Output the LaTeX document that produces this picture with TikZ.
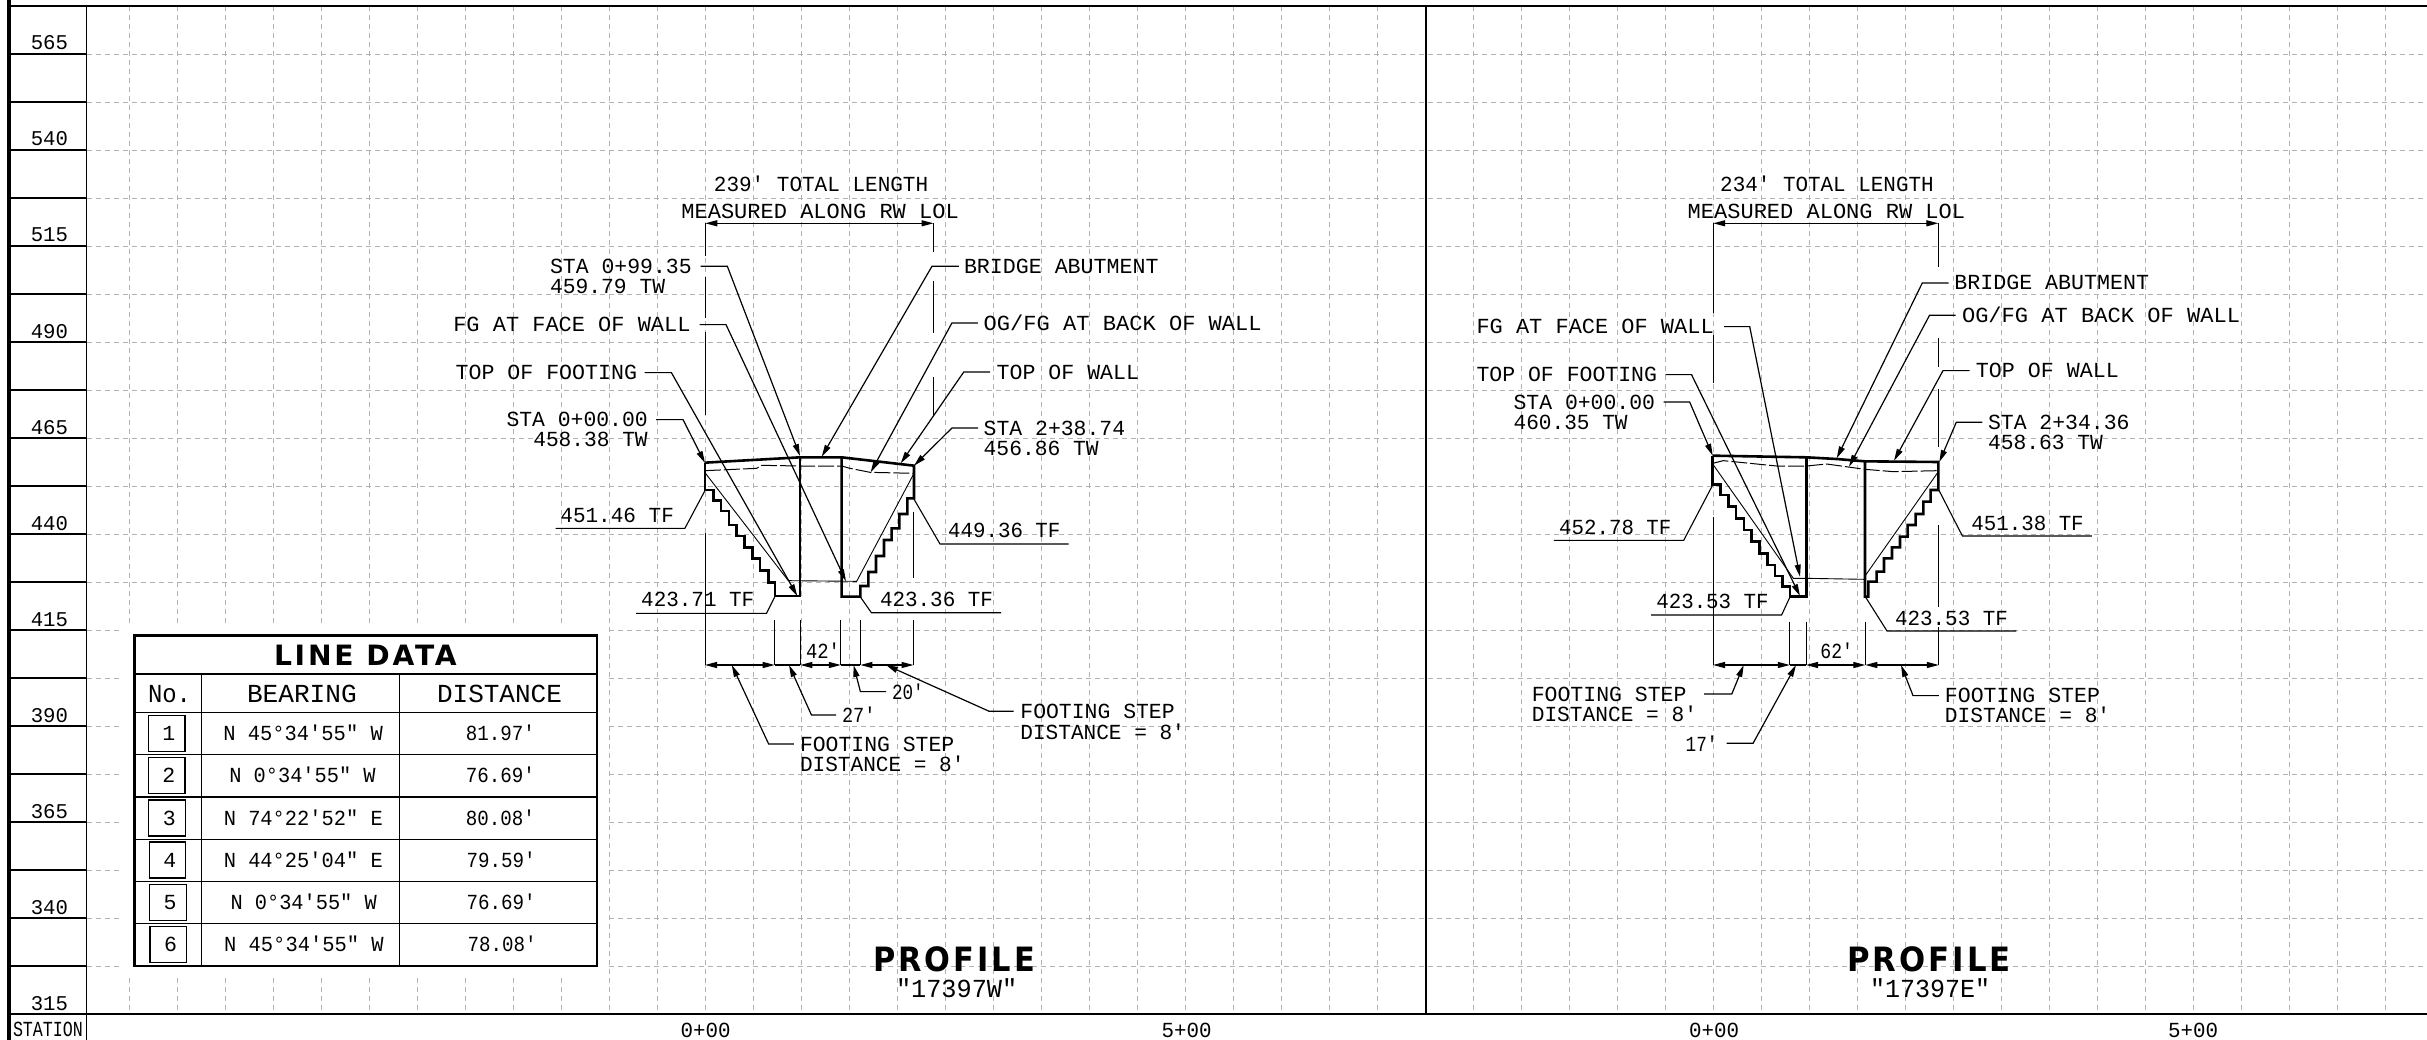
\documentclass[tikz,border=0pt]{standalone}
\usepackage{graphicx}
\usepackage{fontspec}
\newfontfamily\mono{Liberation Mono}
\newfontfamily\heavy{DejaVu Sans}[BoldFont={* Bold},LetterSpace=10]
\usetikzlibrary{arrows.meta}
\newcommand\tx[6][21.5]{\node[txt,anchor=base west] (#2) at (#3,#4) {\fontsize{#1}{#1}\selectfont\resizebox{#5pt}{\height}{#6}};}
\newcommand\hv[6]{\node[txt,anchor=base west] (#1) at (#2,#3) {\fontsize{#5}{#5}\selectfont\heavy\bfseries\resizebox{#4pt}{\height}{#6}};}
\tikzset{
 txt/.style={inner sep=0pt,outer sep=0pt,text=black,font=\mono},
 gridln/.style={draw=gridc,line width=0.9pt,dash pattern=on 5pt off 4pt},
 frameln/.style={draw=black,line width=1.4pt},
 thinln/.style={draw=black,line width=1.1pt},
 wall/.style={draw=black,line width=2.6pt,line join=miter},
 leader/.style={draw=black,line width=1.2pt,-{Triangle[length=12pt,width=6pt]}},
 uline/.style={draw=black,line width=1.1pt},
 fine/.style={draw=black,line width=0.9pt},
 ogline/.style={draw=black,line width=1pt,dash pattern=on 16pt off 3pt},
 dimtips/.style={draw=black,line width=1.2pt,{Triangle[length=12pt,width=6pt]}-{Triangle[length=12pt,width=6pt]}},
 numbox/.style={draw=black,line width=1.3pt},
}
\definecolor{gridc}{HTML}{B2B2B2}
\begin{document}
\begin{tikzpicture}[x=1pt,y=-1pt]
\useasboundingbox (0,0) rectangle (2427,1040);
\fill[white] (0,0) rectangle (2427,1040);
% grid
\foreach \k in {0,...,26} \draw[gridln] ({129.5+48*\k},6) -- ({129.5+48*\k},1014);
\foreach \k in {0,...,19} \draw[gridln] ({1473.4+48*\k},6) -- ({1473.4+48*\k},1014);
\foreach \k in {0,...,19} \draw[gridln] (87,{54+48*\k}) -- (2427,{54+48*\k});
\fill[white] (123,626) rectangle (606,976);
% frame
\draw[draw=black,line width=3.8pt] (9.2,0) -- (9.2,1040);
\draw[draw=black,line width=1.6pt] (86.5,6) -- (86.5,1040);
\draw[frameln] (9,6) -- (2427,6);
\draw[frameln] (9,1014) -- (2427,1014);
\draw[frameln] (1426,6) -- (1426,1014);
\foreach \k in {1,...,20} \draw[frameln] (9,{6+48*\k}) -- (86.5,{6+48*\k});
% elevation labels
\foreach \v/\y in {565/54,540/150,515/246,490/342,465/438,440/534,415/630,390/726,365/822,340/918,315/1014}
  \node[txt,anchor=base west] (el\v) at (30.8,\y-4) {\fontsize{21}{21}\selectfont\resizebox{37.2pt}{\height}{\v}};
\tx{stalab}{13}{1036.7}{70}{STATION}
\tx{s0a}{680.5}{1037.3}{50}{0+00}
\tx{s5a}{1161.7}{1037.3}{50}{5+00}
\tx{s0b}{1689}{1037.3}{50}{0+00}
\tx{s5b}{2168}{1037.3}{50}{5+00}

% ---------- LEFT PROFILE ----------
\tx{la}{713.9}{191.3}{214.3}{239′ TOTAL LENGTH}
\tx{lb}{681.4}{218.3}{277.4}{MEASURED ALONG RW LOL}
\coordinate (da) at (705.3,223.3); \coordinate (db) at (933.5,223.3);
\draw[dimtips] (da) -- (db);
\foreach \a/\b in {223/256,277/318,332/415,533/665} \draw[thinln] (705.3,\a) -- (705.3,\b);
\foreach \a/\b in {512/578,620/665} \draw[thinln] (913.5,\a) -- (913.5,\b);
\draw[thinln] (933.5,223) -- (933.5,252);
\draw[thinln] (933.5,281) -- (933.5,333);
\draw[thinln] (933.5,377) -- (933.5,415);
\foreach \x in {774.7,800.4,840.8,860.4} \draw[fine] (\x,619.5) -- (\x,665);
% wall
\begin{scope}[shift={(660,440)},scale=0.33333]
\draw[wall] (135,68) -- (420,52) -- (545,52) -- (762,77) -- (762,175) -- (742,175) -- (742,222) -- (718,222) -- (718,265) -- (695,265) -- (695,300) -- (672,300) -- (672,348) -- (648,348) -- (648,396) -- (625,396) -- (625,438) -- (601,438) -- (601,470) -- (545,470) -- (545,52);
\draw[wall] (135,68) -- (135,150) -- (160,150) -- (160,182) -- (183,182) -- (183,213) -- (207,213) -- (207,255) -- (230,255) -- (230,288) -- (254,288) -- (254,323) -- (277,323) -- (277,355) -- (300,355) -- (300,392) -- (325,392) -- (325,428) -- (345,428) -- (345,468) -- (420,468) -- (420,52);
\draw[fine] (135,98) -- (385,422) -- (590,424) -- (762,100);
\draw[ogline] (135,92) -- (290,85) -- (305,76) -- (420,78) -- (545,78) -- (570,85) -- (630,97) -- (762,100);
\end{scope}
% dims below
\draw[dimtips] (705,665) -- (774.7,665);
\draw[thinln] (774.7,665) -- (800.4,665);
\draw[dimtips] (800.4,665) -- (840.8,665);
\draw[thinln] (840.8,665) -- (860.4,665);
\draw[dimtips] (860.4,665) -- (913.5,665);
\tx{l42}{806}{658.3}{34}{42′}
% left labels
\tx{lsa}{550.1}{273.3}{141.6}{STA 0+99.35}
\tx{lsb}{550.1}{293.3}{115}{459.79 TW}
\coordinate (t1) at (800,456);
\draw[leader] (lsa.east) ++(8.8,0) -- ++(26.8,0) -- (t1);
\tx{lfg}{453.3}{331.7}{237.2}{FG AT FACE OF WALL}
\coordinate (t2) at (846,581.3);
\draw[leader] (lfg.east) ++(9.2,0) -- ++(26.3,0) -- (t2);
\tx{ltf}{455.6}{379.7}{181.4}{TOP OF FOOTING}
\coordinate (t3) at (797.3,596);
\draw[leader] (ltf.east) ++(7.6,0) -- ++(26.8,0) -- (t3);
\tx{lza}{506.5}{426.7}{141.2}{STA 0+00.00}
\tx{lzb}{533.3}{446.7}{114.4}{458.38 TW}
\coordinate (t4) at (705,463);
\draw[leader] (lza.east) ++(8.3,0) -- ++(27,0) -- (t4);
% right labels
\tx{lbr}{964}{273.3}{194.5}{BRIDGE ABUTMENT}
\coordinate (t5) at (821.7,456.7);
\draw[leader] (lbr.west) ++(-5.2,0) -- ++(-26.8,0) -- (t5);
\tx{log}{983.7}{330.7}{278}{OG/FG AT BACK OF WALL}
\coordinate (t6) at (870.7,472.3);
\draw[leader] (log.west) ++(-5.8,0) -- ++(-26,0) -- (t6);
\tx{ltw}{996.7}{379}{142.3}{TOP OF WALL}
\coordinate (t7) at (900.7,463.3);
\draw[leader] (ltw.west) ++(-6.7,0) -- ++(-26.2,0) -- (t7);
\tx{lea}{983.7}{435}{141.5}{STA 2+38.74}
\tx{leb}{983.7}{455.7}{115}{456.86 TW}
\coordinate (t8) at (914,465.7);
\draw[leader] (lea.west) ++(-5.7,0) -- ++(-26,0) -- (t8);
% TF labels
\tx{ltfa}{560.4}{522.3}{113.5}{451.46 TF}
\coordinate (u1) at (705.3,490);
\draw[uline] (ltfa.base west) ++(-4.9,6) -- ++(129.4,0) -- (u1);
\tx{ltfb}{948.2}{537.7}{112.2}{449.36 TF}
\coordinate (u2) at (913.5,498.3);
\draw[uline] (ltfb.base west) ++(120.4,6.3) -- ++(-128.6,0) -- (u2);
\tx{ltfc}{641.2}{606.7}{113.1}{423.71 TF}
\coordinate (u3) at (774.7,597);
\draw[uline] (ltfc.base west) ++(-5.2,6.6) -- ++(130.5,0) -- (u3);
\tx{ltfd}{880}{606}{113}{423.36 TF}
\coordinate (u4) at (860.4,597);
\draw[uline] (ltfd.base west) ++(121.2,6.7) -- ++(-129.8,0) -- (u4);
% bottom leaders
\tx{lfsa}{800}{751}{154.3}{FOOTING STEP}
\tx{lfsb}{800}{771}{164.5}{DISTANCE = 8′}
\coordinate (b1) at (731.8,665);
\draw[leader] (lfsa.west) ++(-6.1,0) -- ++(-25.3,0) -- (b1);
\tx{l27}{842}{722.7}{33.5}{27′}
\coordinate (b2) at (789,665);
\draw[leader] (l27.west) ++(-6,0) -- ++(-24.6,0) -- (b2);
\tx{l20}{892}{699.3}{31.7}{20′}
\coordinate (b3) at (853.5,665);
\draw[leader] (l20.west) ++(-6,0) -- ++(-25.6,0) -- (b3);
\tx{lfra}{1020.4}{718.3}{154.3}{FOOTING STEP}
\tx{lfrb}{1020.4}{739}{164.5}{DISTANCE = 8′}
\coordinate (b4) at (886,665);
\draw[leader] (lfra.west) ++(-6.9,0) -- ++(-24.5,0) -- (b4);
\hv{lpr}{873}{971.7}{162}{33.5}{PROFILE}
\tx[26]{lprb}{896}{997.3}{121.3}{"17397W"}

% ---------- RIGHT PROFILE ----------
\tx{ra}{1720.2}{191.3}{213.5}{234′ TOTAL LENGTH}
\tx{rb}{1687.7}{218.3}{277.4}{MEASURED ALONG RW LOL}
\coordinate (ra1) at (1713.2,223.3); \coordinate (rb1) at (1938.3,223.3);
\draw[dimtips] (ra1) -- (rb1);
\foreach \a/\b in {223/313,335/383,517/665} \draw[thinln] (1713.2,\a) -- (1713.2,\b);
\foreach \a/\b in {223/267,338/367,389/447,525/607,627/665} \draw[thinln] (1938.6,\a) -- (1938.6,\b);
\foreach \x in {1789.8,1806,1865.3} \draw[fine] (\x,621.7) -- (\x,665);
\begin{scope}[shift={(1680,440)},scale=0.33333]
\draw[wall] (98,47) -- (380,52) -- (470,57) -- (555,64) -- (775,66) -- (775,150) -- (752,150) -- (752,185) -- (730,185) -- (730,222) -- (707,222) -- (707,255) -- (683,255) -- (683,290) -- (660,290) -- (660,322) -- (636,322) -- (636,355) -- (612,355) -- (612,395) -- (590,395) -- (590,425) -- (565,425) -- (565,470) -- (555,470) -- (555,64);
\draw[wall] (98,47) -- (98,133) -- (122,133) -- (122,165) -- (145,165) -- (145,200) -- (168,200) -- (168,236) -- (192,236) -- (192,270) -- (215,270) -- (215,305) -- (238,305) -- (238,340) -- (262,340) -- (262,375) -- (285,375) -- (285,408) -- (308,408) -- (308,440) -- (330,440) -- (330,470) -- (380,470) -- (380,52);
\draw[fine] (98,72) -- (340,415) -- (380,415) -- (555,418);
\draw[fine] (555,408) -- (775,95);
\draw[ogline] (98,70) -- (130,62) -- (290,78) -- (380,78) -- (440,72) -- (555,88) -- (640,95) -- (775,92);
\end{scope}
\draw[dimtips] (1713,665) -- (1789.8,665);
\draw[thinln] (1789.8,665) -- (1806,665);
\draw[dimtips] (1806,665) -- (1865.3,665);
\draw[dimtips] (1865.3,665) -- (1938.8,665);
\tx{r62}{1820.4}{658.3}{32.6}{62′}
\tx{rfg}{1476.5}{333.7}{237.2}{FG AT FACE OF WALL}
\coordinate (r1) at (1800,576.7);
\draw[leader] (rfg.east) ++(10.3,0) -- ++(25.7,0) -- (r1);
\tx{rtf}{1476.5}{381.7}{180.5}{TOP OF FOOTING}
\coordinate (r2) at (1800,596);
\draw[leader] (rtf.east) ++(8.5,0) -- ++(26,0) -- (r2);
\tx{rza}{1513.6}{409}{141.4}{STA 0+00.00}
\tx{rzb}{1513.6}{429}{114}{460.35 TW}
\coordinate (r3) at (1712.7,455.7);
\draw[leader] (rza.east) ++(8.6,0) -- ++(26,0) -- (r3);
\tx{rbr}{1954.4}{290}{194.6}{BRIDGE ABUTMENT}
\coordinate (r4) at (1836.7,458.3);
\draw[leader] (rbr.west) ++(-5.7,0) -- ++(-26.4,0) -- (r4);
\tx{rog}{1962}{323}{278}{OG/FG AT BACK OF WALL}
\coordinate (r5) at (1849,466.7);
\draw[leader] (rog.west) ++(-6.5,0) -- ++(-26,0) -- (r5);
\tx{rtw}{1975.8}{377.7}{143}{TOP OF WALL}
\coordinate (r6) at (1894,460.7);
\draw[leader] (rtw.west) ++(-6.1,0) -- ++(-26.7,0) -- (r6);
\tx{rea}{1988}{429.3}{141.5}{STA 2+34.36}
\tx{reb}{1988}{449.3}{115}{458.63 TW}
\coordinate (r7) at (1939.3,462);
\draw[leader] (rea.west) ++(-5.7,0) -- ++(-26,0) -- (r7);
\tx{rtfa}{1559.2}{534.3}{112.2}{452.78 TF}
\coordinate (v1) at (1712.7,485);
\draw[uline] (rtfa.base west) ++(-5.3,6) -- ++(129.8,0) -- (v1);
\tx{rtfb}{1971.4}{530}{112.3}{451.38 TF}
\coordinate (v2) at (1938.8,490);
\draw[uline] (rtfb.base west) ++(120.4,6) -- ++(-129.4,0) -- (v2);
\tx{rtfc}{1656.3}{608.3}{112.3}{423.53 TF}
\coordinate (v3) at (1789.8,597.3);
\draw[uline] (rtfc.base west) ++(-5.3,6.7) -- ++(130.6,0) -- (v3);
\tx{rtfd}{1895}{625}{113}{423.53 TF}
\coordinate (v4) at (1865.3,596.7);
\draw[uline] (rtfd.base west) ++(121.3,6) -- ++(-129.3,0) -- (v4);
\tx{rfsa}{1531.8}{701}{154.7}{FOOTING STEP}
\tx{rfsb}{1531.8}{721.7}{165.3}{DISTANCE = 8′}
\coordinate (w1) at (1743.7,665);
\draw[leader] (rfsa.east) ++(17.5,0) -- ++(27.8,0) -- (w1);
\tx{r17}{1685.7}{751}{31.9}{17′}
\coordinate (w2) at (1796,665);
\draw[leader] (r17.east) ++(9,0) -- ++(26.5,0) -- (w2);
\tx{rfra}{1944.9}{702.7}{155.1}{FOOTING STEP}
\tx{rfrb}{1944.9}{722.7}{165.3}{DISTANCE = 8′}
\coordinate (w3) at (1901,665);
\draw[leader] (rfra.west) ++(-6.1,0) -- ++(-25.8,0) -- (w3);
\hv{rpr}{1847}{971.7}{164}{33.5}{PROFILE}
\tx[26]{rprb}{1870}{997.3}{120}{"17397E"}

% ---------- TABLE ----------
\draw[draw=black,line width=2.6pt,fill=white] (134.4,635.3) rectangle (597,966);
\foreach \y in {674,712.3,754.7,797,839.3,881.7,923.7} \draw[frameln] (134.4,\y) -- (597,\y);
\draw[frameln] (201.3,674) -- (201.3,966);
\draw[frameln] (399.4,674) -- (399.4,966);
\hv{tl}{274}{665}{182.7}{28}{LINE DATA}
\tx[26]{tn}{148}{702.7}{43}{No.}
\tx[26]{tb}{247}{702.7}{109.7}{BEARING}
\tx[26]{td}{437}{702.7}{125}{DISTANCE}
\foreach \n/\xa/\ya/\b/\xb/\wb/\d/\xd/\yb in {
 1/148.3/715.7/{N 45°34′55" W}/223.4/159.4/81.97′/465.8/740.7,
 2/148.3/757.7/{N 0°34′55" W}/229.3/146.3/76.69′/465.8/782.7,
 3/148.8/800/{N 74°22′52" E}/223.8/159/80.08′/465.8/825,
 4/149.2/842/{N 44°25′04" E}/223.8/159/79.59′/466.5/867.3,
 5/149.6/884.3/{N 0°34′55" W}/230.5/146.3/76.69′/466.5/909.7,
 6/150/926.7/{N 45°34′55" W}/224.2/159.4/78.08′/467.7/951.7}{
 \draw[numbox] (\xa,\ya) rectangle ++(36.6,36);
 \node[txt,anchor=base] (nb\n) at (\xa+20.5,\yb) {\fontsize{21.5}{21.5}\selectfont \n};
 \node[txt,anchor=base west] (be\n) at (\xb,\yb) {\fontsize{21.5}{21.5}\selectfont\resizebox{\wb pt}{\height}{\b}};
 \node[txt,anchor=base west] (di\n) at (\xd,\yb) {\fontsize{21.5}{21.5}\selectfont\resizebox{69pt}{\height}{\d}};
}
\end{tikzpicture}
\end{document}
